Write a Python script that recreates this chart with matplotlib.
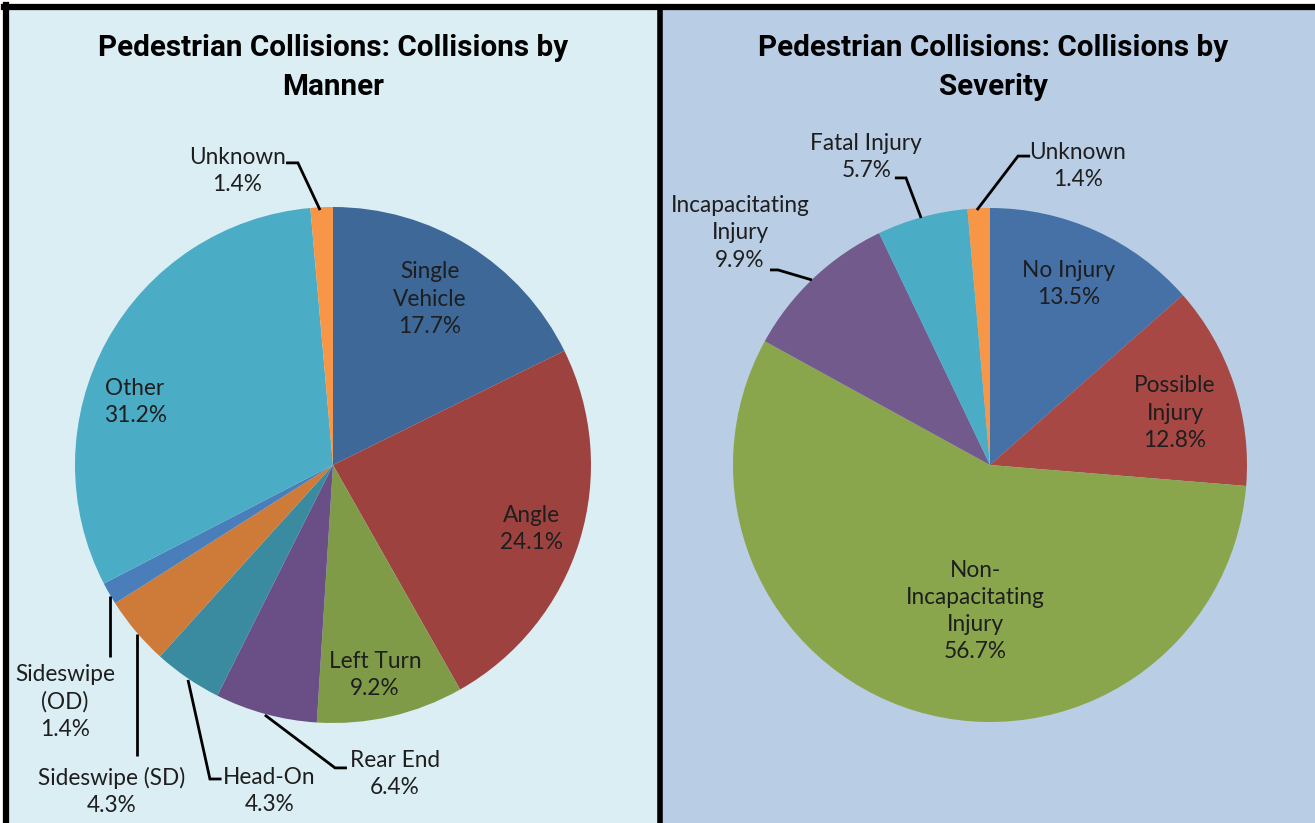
"""
Pedestrian collisions: two pie charts (manner and severity) side by side.
"""
import numpy as np
import matplotlib
matplotlib.use("Agg")
import matplotlib.pyplot as plt
from matplotlib.patches import Rectangle

# ---- data -------------------------------------------------------------
manner_labels = ["Single\nVehicle", "Angle", "Left Turn", "Rear End", "Head-On",
                 "Sideswipe (SD)", "Sideswipe\n(OD)", "Other", "Unknown"]
manner_values = [17.7, 24.1, 9.2, 6.4, 4.3, 4.3, 1.4, 31.2, 1.4]

severity_labels = ["No Injury", "Possible\nInjury", "Non-\nIncapacitating\nInjury",
                   "Incapacitating\nInjury", "Fatal Injury", "Unknown"]
severity_values = [13.5, 12.8, 56.7, 9.9, 5.7, 1.4]

manner_title = "Pedestrian Collisions: Collisions by\nManner"
severity_title = "Pedestrian Collisions: Collisions by\nSeverity"

# ---- style ------------------------------------------------------------
manner_colors = ["#3E6898", "#9E4240", "#7F9B48", "#6A4F86", "#3A8BA0",
                 "#CE7B3A", "#4A7EBB", "#4BACC6", "#F79646"]
severity_colors = ["#4571A7", "#A84845", "#8AA64D", "#735A8D", "#4BACC6", "#F79646"]

W, H = 1315, 823
LABEL_FONT = ["Lato", "DejaVu Sans"]
TITLE_FONT = ["Roboto", "DejaVu Sans"]

# label placement, in pie radii relative to the pie centre (x right, y up)
# None for leader -> label sits inside the slice
manner_label_pos = [(0.376, 0.643), (0.771, -0.248), (0.163, -0.814), (0.240, -1.198),
                    (-0.246, -1.264), (-0.857, -1.264), (-1.039, -0.919),
                    (-0.767, 0.244), (-0.372, 1.140)]
manner_leader = [None, None, None,
                 [(-0.264, -0.969), (0.008, -1.174), (0.054, -1.174)],
                 [(-0.562, -0.833), (-0.477, -1.217), (-0.432, -1.217)],
                 [(-0.760, -0.655), (-0.760, -1.128)],
                 [(-0.864, -0.508), (-0.864, -0.744)],
                 None,
                 [(-0.050, 0.988), (-0.136, 1.171), (-0.182, 1.171)]]

severity_label_pos = [(0.307, 0.704), (0.720, 0.202), (-0.058, -0.568),
                      (-0.973, 0.903), (-0.482, 1.198), (0.342, 1.163)]
severity_leader = [None, None, None,
                   [(-0.693, 0.720), (-0.825, 0.759), (-0.856, 0.759)],
                   [(-0.268, 0.961), (-0.327, 1.117), (-0.370, 1.117)],
                   [(-0.051, 0.992), (0.109, 1.202), (0.156, 1.202)]]


def px(x, y):
    """Convert image pixel position (origin top-left) to axes data coords."""
    return x, H - y


def draw_pie(ax, values, labels, colors, centre, radius, label_pos, leaders):
    cx, cy = px(*centre)
    ax.pie(values, colors=colors, startangle=90, counterclock=False,
           center=(cx, cy), radius=radius, frame=True,
           wedgeprops=dict(linewidth=0))
    for lab, val, pos, lead in zip(labels, values, label_pos, leaders):
        tx, ty = cx + pos[0] * radius, cy + pos[1] * radius
        ax.text(tx, ty, f"{lab}\n{val:.1f}%", ha="center", va="center",
                fontsize=16.3, family=LABEL_FONT, color="#1e1e1e",
                linespacing=1.36, zorder=5)
        if lead is not None:
            xs = [cx + p[0] * radius for p in lead]
            ys = [cy + p[1] * radius for p in lead]
            ax.plot(xs, ys, color="black", lw=2, zorder=4,
                    solid_capstyle="butt", solid_joinstyle="miter")


fig = plt.figure(figsize=(W / 100, H / 100), dpi=100)
fig.patch.set_facecolor("white")
ax = fig.add_axes([0, 0, 1, 1])
ax.set_xlim(0, W)
ax.set_ylim(0, H)

# panel backgrounds and borders
ax.add_patch(Rectangle(px(7, 830), 654, 823, facecolor="#DBEEF4",
                       edgecolor="none", zorder=0))
ax.add_patch(Rectangle(px(661, 830), 660, 823, facecolor="#B9CDE4",
                       edgecolor="none", zorder=0))
ax.plot([6.5, 6.5], [0, H - 4.5], color="black", lw=4.5, zorder=6)
ax.plot([4, W], [H - 7, H - 7], color="black", lw=4.5, zorder=6)
ax.plot([660.5, 660.5], [0, H - 7], color="black", lw=4, zorder=6)

draw_pie(ax, manner_values, manner_labels, manner_colors, (333, 465), 258,
         manner_label_pos, manner_leader)
draw_pie(ax, severity_values, severity_labels, severity_colors, (990, 465), 257,
         severity_label_pos, severity_leader)

for title, x in [(manner_title, 333), (severity_title, 993)]:
    ax.text(*px(x, 67), title, ha="center", va="center", fontsize=21.3,
            fontweight="bold", family=TITLE_FONT, color="black", linespacing=1.5)

ax.set_xlim(0, W)
ax.set_ylim(0, H)
ax.set_aspect("auto")
ax.axis("off")

fig.savefig("out.png", dpi=100, facecolor=fig.get_facecolor())
